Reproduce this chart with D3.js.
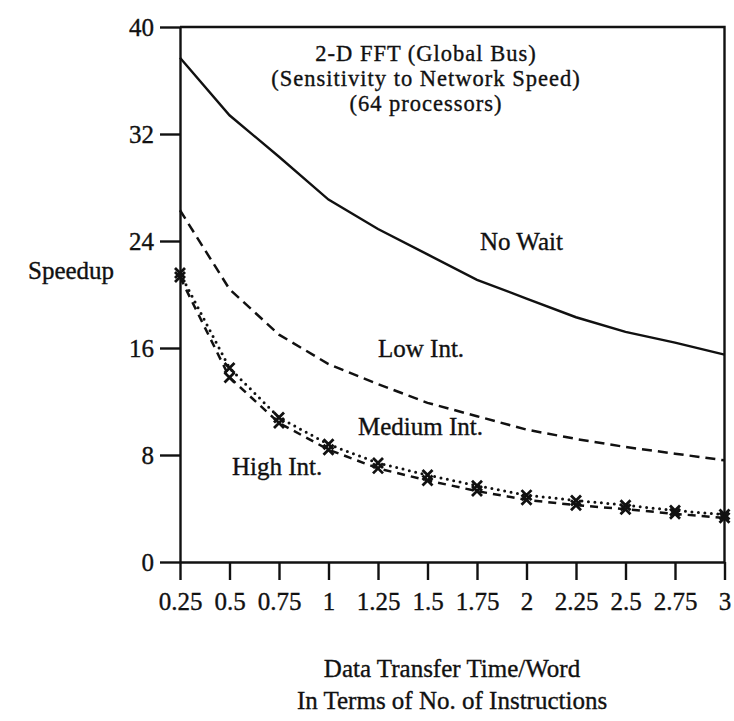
<!DOCTYPE html>
<html>
<head>
<meta charset="utf-8">
<script src="https://cdn.jsdelivr.net/npm/d3@7"></script>
<style>
  html, body { margin: 0; padding: 0; background: #fff; }
  svg { display: block; }
  text { font-family: "Liberation Serif", "Times New Roman", serif; fill: #111; stroke: #111; stroke-width: 0.35px; }
</style>
</head>
<body>
<svg id="chart" width="734" height="721"></svg>
<script>
// Data transfer time per word, in instructions
const transferTimes = [0.25, 0.5, 0.75, 1, 1.25, 1.5, 1.75, 2, 2.25, 2.5, 2.75, 3];
const xTickLabels = ["0.25", "0.5", "0.75", "1", "1.25", "1.5", "1.75", "2", "2.25", "2.5", "2.75", "3"];
const yTicks = [0, 8, 16, 24, 32, 40];

// Speedup for each interference level
const noWait    = [37.7, 33.4, 30.3, 27.1, 24.9, 23.0, 21.1, 19.7, 18.3, 17.2, 16.4, 15.5];
const lowInt    = [26.3, 20.4, 17.0, 14.8, 13.3, 11.9, 10.9, 9.9, 9.2, 8.6, 8.1, 7.6];
const mediumInt = [21.6, 14.5, 10.8, 8.8, 7.4, 6.5, 5.7, 5.0, 4.6, 4.25, 3.85, 3.55];
const highInt   = [21.3, 13.8, 10.4, 8.4, 7.0, 6.1, 5.3, 4.65, 4.25, 3.95, 3.6, 3.3];

const titleLines = ["2-D FFT (Global Bus)", "(Sensitivity to Network Speed)", "(64 processors)"];
const xTitleLines = ["Data Transfer Time/Word", "In Terms of No. of Instructions"];

const svg = d3.select("#chart");
const plotLeft = 180, plotRight = 724.5, plotTop = 27, plotBottom = 562;

const x = d3.scaleLinear().domain([0.25, 3]).range([plotLeft, plotRight]);
const y = d3.scaleLinear().domain([0, 40]).range([plotBottom, plotTop]);

// Frame: top and right edges
svg.append("path")
  .attr("d", `M${plotLeft},${y(40)}H${x(3)}V${y(0)}`)
  .attr("fill", "none").attr("stroke", "#111").attr("stroke-width", 2.4);

// Left axis
const yAxis = svg.append("g")
  .attr("transform", `translate(${plotLeft},0)`)
  .call(d3.axisLeft(y).tickValues(yTicks).tickFormat(d3.format("d"))
    .tickSize(20).tickSizeOuter(0).tickPadding(6));
yAxis.selectAll("text").attr("font-size", 25).attr("font-family", "Liberation Serif").attr("fill", "#111");

// Bottom axis
const xAxis = svg.append("g")
  .attr("transform", `translate(0,${plotBottom})`)
  .call(d3.axisBottom(x).tickValues(transferTimes)
    .tickFormat((d, i) => xTickLabels[i])
    .tickSize(18).tickSizeOuter(0).tickPadding(12));
xAxis.selectAll("text").attr("font-size", 25).attr("font-family", "Liberation Serif").attr("fill", "#111");

[yAxis, xAxis].forEach(g => {
  g.select(".domain").attr("stroke", "#111").attr("stroke-width", 2.4);
  g.selectAll(".tick line").attr("stroke", "#111").attr("stroke-width", 2.4);
});

// Series lines
const line = d3.line().x((d, i) => x(transferTimes[i])).y(d => y(d));

function drawSeries(values, dash, width, cap) {
  svg.append("path")
    .datum(values)
    .attr("d", line)
    .attr("fill", "none")
    .attr("stroke", "#111")
    .attr("stroke-width", width)
    .attr("stroke-linecap", cap || "butt")
    .attr("stroke-dasharray", dash);
}

drawSeries(noWait, null, 2.4);
drawSeries(lowInt, "10,6", 2.5);
drawSeries(mediumInt, "0,6.5", 3, "round");
drawSeries(highInt, "8,6", 2.5);

// Cross markers on the interference curves
function drawMarkers(values) {
  const s = 5;
  svg.append("g").selectAll("path")
    .data(values)
    .join("path")
    .attr("d", (d, i) => {
      const cx = x(transferTimes[i]), cy = y(d);
      return `M${cx - s},${cy - s}L${cx + s},${cy + s}M${cx + s},${cy - s}L${cx - s},${cy + s}`;
    })
    .attr("stroke", "#111").attr("stroke-width", 2.8).attr("fill", "none");
}
drawMarkers(mediumInt);
drawMarkers(highInt);

// Title block
svg.append("text")
  .attr("text-anchor", "middle").attr("font-size", 22.5)
  .attr("letter-spacing", 1)
  .selectAll("tspan").data(titleLines).join("tspan")
  .attr("x", 426).attr("y", (d, i) => 61 + i * 25)
  .text(d => d);

// Curve labels
const curveLabels = [
  { text: "No Wait", x: 480, y: 250 },
  { text: "Low Int.", x: 378, y: 357 },
  { text: "Medium Int.", x: 358, y: 435 },
  { text: "High Int.", x: 232, y: 475 }
];
svg.append("g").selectAll("text").data(curveLabels).join("text")
  .attr("x", d => d.x).attr("y", d => d.y)
  .attr("font-size", 25)
  .text(d => d.text);

// Axis titles
svg.append("text")
  .attr("x", 28).attr("y", 279)
  .attr("font-size", 25)
  .text("Speedup");

svg.append("text")
  .attr("text-anchor", "middle").attr("font-size", 25)
  .selectAll("tspan").data(xTitleLines).join("tspan")
  .attr("x", 452).attr("y", (d, i) => 677 + i * 32)
  .text(d => d);
</script>
</body>
</html>
